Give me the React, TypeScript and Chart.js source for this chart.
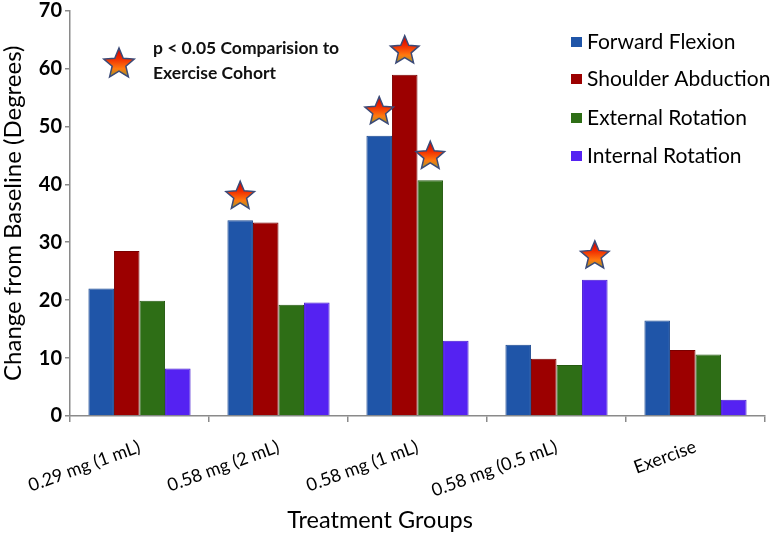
import React, { useEffect, useRef } from "react";
import { Chart, registerables } from "chart.js";

Chart.register(...registerables);

const categories = ["0.29 mg (1 mL)", "0.58 mg (2 mL)", "0.58 mg (1 mL)", "0.58 mg (0.5 mL)", "Exercise"];
const seriesNames = ["Forward Flexion", "Shoulder Abduction", "External Rotation", "Internal Rotation"];
const forwardFlexion = [22.0, 33.8, 48.4, 12.3, 16.5];
const shoulderAbduction = [28.5, 33.4, 58.9, 9.9, 11.4];
const externalRotation = [19.9, 19.2, 40.7, 8.8, 10.6];
const internalRotation = [8.2, 19.6, 13.0, 23.5, 2.8];
// significance markers (p < 0.05 vs exercise cohort)
const forwardFlexionSig = [false, true, true, false, false];
const shoulderAbductionSig = [false, false, true, false, false];
const externalRotationSig = [false, false, true, false, false];
const internalRotationSig = [false, false, false, true, false];
const yTicks = [0, 10, 20, 30, 40, 50, 60, 70];
const annotationLines = ["p < 0.05 Comparision to", "Exercise Cohort"];
const xTitle = "Treatment Groups";
const yTitle = "Change from Baseline (Degrees)";

const fills = ["#1f55a8", "#9c0000", "#2e6e16", "#5522f2"];
const borders = ["#1a4890", "#7a0000", "#255a10", "#4418d0"];
const FONT = "Lato, 'Open Sans', sans-serif";

function drawStar(ctx: CanvasRenderingContext2D, cx: number, cy: number, r: number) {
  const inner = r * 0.45;
  ctx.save();
  ctx.beginPath();
  for (let i = 0; i < 10; i++) {
    const rad = i % 2 === 0 ? r : inner;
    const a = -Math.PI / 2 + (i * Math.PI) / 5;
    const x = cx + rad * Math.cos(a);
    const y = cy + rad * Math.sin(a);
    if (i === 0) ctx.moveTo(x, y);
    else ctx.lineTo(x, y);
  }
  ctx.closePath();
  const g = ctx.createLinearGradient(cx, cy - r, cx, cy + r * 0.85);
  g.addColorStop(0, "#c80000");
  g.addColorStop(0.35, "#f02a00");
  g.addColorStop(0.7, "#ff7a10");
  g.addColorStop(1, "#8a9a30");
  ctx.fillStyle = g;
  ctx.fill();
  ctx.lineWidth = 1.5;
  ctx.strokeStyle = "#3b4a78";
  ctx.stroke();
  ctx.restore();
}

const sigFlags = [forwardFlexionSig, shoulderAbductionSig, externalRotationSig, internalRotationSig];

const overlayPlugin = {
  id: "overlay",
  afterDatasetsDraw(chart: any) {
    const ctx = chart.ctx as CanvasRenderingContext2D;
    sigFlags.forEach((flags, di) => {
      const meta = chart.getDatasetMeta(di);
      flags.forEach((f, i) => {
        if (!f) return;
        const el = meta.data[i];
        drawStar(ctx, el.x, el.y - 24, 15);
      });
    });
  },
  afterDraw(chart: any) {
    const ctx = chart.ctx as CanvasRenderingContext2D;
    ctx.save();
    // annotation
    drawStar(ctx, 119, 64, 16);
    ctx.fillStyle = "#111";
    ctx.font = `bold 17.5px ${FONT}`;
    ctx.textBaseline = "middle";
    ctx.textAlign = "left";
    annotationLines.forEach((t, i) => ctx.fillText(t, 153, 48 + i * 25));
    // legend
    const rows = [42, 79, 118, 156];
    seriesNames.forEach((name, i) => {
      ctx.fillStyle = fills[i];
      ctx.fillRect(571, rows[i] - 5, 11, 10);
      ctx.fillStyle = "#000";
      ctx.font = `21px ${FONT}`;
      ctx.fillText(name, 587, rows[i]);
    });
    // x axis title
    ctx.font = `23.5px ${FONT}`;
    ctx.textAlign = "center";
    ctx.fillText(xTitle, 380, 520);
    ctx.restore();
  },
};

export default function App() {
  const ref = useRef<HTMLCanvasElement | null>(null);
  useEffect(() => {
    if (!ref.current) return;
    const values = [forwardFlexion, shoulderAbduction, externalRotation, internalRotation];
    const chart = new Chart(ref.current, {
      type: "bar",
      data: {
        labels: categories,
        datasets: values.map((v, i) => ({
          label: seriesNames[i],
          data: v,
          backgroundColor: fills[i],
          borderColor: borders[i],
          borderWidth: 1,
          categoryPercentage: 0.735,
          barPercentage: 1.0,
        })),
      },
      options: {
        animation: false,
        responsive: false,
        layout: { padding: { top: 0, right: 9, bottom: 0, left: 0 } },
        plugins: { legend: { display: false }, tooltip: { enabled: false } },
        scales: {
          x: {
            grid: { display: true, drawOnChartArea: false, drawTicks: true, tickLength: 6, color: "#8a8a8a", lineWidth: 1.5 },
            border: { color: "#8a8a8a", width: 1.5 },
            ticks: {
              minRotation: 20,
              maxRotation: 20,
              color: "#000",
              padding: 14,
              font: { family: FONT, size: 18 },
            },
            title: { display: false },
            afterFit: (s: any) => {
              s.height = 118;
            },
          },
          y: {
            min: 0,
            max: 70,
            afterBuildTicks: (s: any) => {
              s.ticks = yTicks.map((v) => ({ value: v }));
            },
            grid: { display: true, drawOnChartArea: false, drawTicks: true, tickLength: 5, color: "#8a8a8a", lineWidth: 1.5 },
            border: { color: "#8a8a8a", width: 1.5 },
            ticks: {
              color: "#000",
              padding: 3,
              font: { family: FONT, size: 20, weight: "bold", lineHeight: 0.75 },
            },
            title: {
              display: true,
              text: yTitle,
              color: "#000",
              font: { family: FONT, size: 24, lineHeight: 1 },
              padding: { top: 1, bottom: 0 },
            },
            afterFit: (s: any) => {
              s.width = 70;
            },
          },
        },
      },
      plugins: [overlayPlugin],
    });
    return () => chart.destroy();
  }, []);
  return (
    <div style={{ position: "fixed", left: 0, top: 0, width: 774, height: 534, background: "#fff" }}>
      <canvas ref={ref} width={774} height={534} />
    </div>
  );
}
